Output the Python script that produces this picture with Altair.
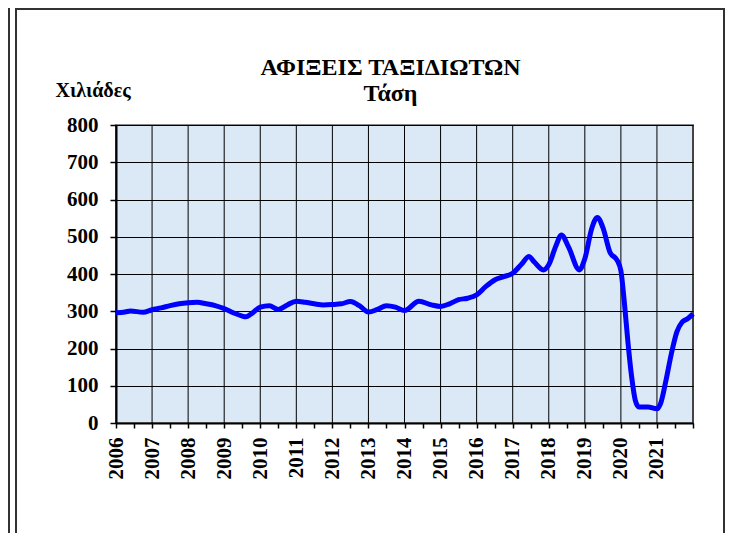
import altair as alt
import pandas as pd

# Trend of traveller arrivals (thousands)
years = [2006.0, 2006.25, 2006.4, 2006.75, 2007.0, 2007.25, 2007.5, 2007.75,
         2008.0, 2008.25, 2008.5, 2008.75, 2009.0, 2009.25, 2009.5, 2009.6,
         2009.75, 2010.0, 2010.25, 2010.5, 2010.75, 2011.0, 2011.25, 2011.5,
         2011.75, 2012.0, 2012.25, 2012.5, 2012.75, 2013.0, 2013.25, 2013.5,
         2013.75, 2014.0, 2014.4, 2014.75, 2015.0, 2015.25, 2015.5, 2015.75,
         2016.0, 2016.25, 2016.5, 2016.75, 2017.0, 2017.25, 2017.45, 2017.6,
         2017.85, 2018.0, 2018.2, 2018.35, 2018.55, 2018.85, 2019.0, 2019.2,
         2019.35, 2019.5, 2019.7, 2019.9, 2020.0, 2020.1, 2020.2, 2020.3,
         2020.4, 2020.5, 2020.75, 2021.0, 2021.1, 2021.25, 2021.4, 2021.55,
         2021.7, 2021.85, 2022.0]
values = [296, 298, 301, 297, 304, 309, 315, 320,
          323, 324, 320, 315, 307, 296, 287, 285,
          293, 311, 315, 305, 317, 327, 324, 320,
          317, 318, 320, 326, 315, 298, 305, 315,
          311, 302, 327, 317, 313, 320, 331, 335,
          344, 366, 384, 393, 402, 427, 447, 432,
          411, 425, 476, 505, 472, 411, 441, 525,
          552, 525, 458, 436, 409, 320, 213, 123,
          61, 43, 43, 38, 52, 114, 186, 244,
          271, 280, 293]

year_ticks = list(range(2006, 2023))
half_ticks = [y / 2 for y in range(4012, 4045)]
y_ticks = list(range(0, 801, 100))

df = pd.DataFrame({"year": years, "value": values})
grid_df = pd.DataFrame({"year": year_ticks})

font = "Liberation Serif"

x_scale = alt.Scale(domain=[2006, 2022], nice=False, zero=False)
y_scale = alt.Scale(domain=[0, 800], nice=False)

x_axis = alt.Axis(
    values=half_ticks,
    labelExpr="(datum.value % 1 == 0 && datum.value < 2022) ? datum.value : ''",
    labelAngle=270, labelAlign="right", labelBaseline="middle",
    labelFont=font, labelFontSize=21, labelFontWeight="bold", labelColor="black",
    labelPadding=9, tickSize=5, tickColor="black", tickWidth=1.5,
    domainColor="black", domainWidth=2, grid=False, title=None,
    labelOverlap=False, labelFlush=False,
)
y_axis = alt.Axis(
    values=y_ticks, grid=True, gridColor="black", gridWidth=1,
    labelFont=font, labelFontSize=21, labelFontWeight="bold", labelColor="black",
    labelPadding=12, tickSize=6, tickColor="black", tickWidth=1.5,
    domainColor="black", domainWidth=2,
    title="Χιλιάδες", titleAngle=0, titleFont=font, titleFontSize=20,
    titleFontWeight="bold", titleColor="black", titleAlign="left",
    titleBaseline="alphabetic", titleX=-61, titleY=-29,
)

grid = alt.Chart(grid_df).mark_rule(color="black", strokeWidth=1).encode(
    x=alt.X("year:Q", scale=x_scale, axis=x_axis),
)

line = alt.Chart(df).mark_line(
    color="#0000ff", strokeWidth=5, interpolate="monotone"
).encode(
    x=alt.X("year:Q", scale=x_scale, axis=x_axis),
    y=alt.Y("value:Q", scale=y_scale, axis=y_axis),
)

frame = alt.Chart(grid_df).mark_rect(
    fill=None, stroke="#333333", strokeWidth=1.5
).encode(
    x=alt.value(-100), x2=alt.value(608), y=alt.value(-116), y2=alt.value(440)
)
edge = alt.Chart(grid_df).mark_rule(color="#333333", strokeWidth=1.5).encode(
    x=alt.value(-107), y=alt.value(-118), y2=alt.value(440)
)

chart = alt.layer(frame, edge, grid, line).properties(
    width=577, height=298,
    autosize=alt.AutoSizeParams(type="none"),
    padding={"left": 108, "top": 117, "right": 35, "bottom": 110},
    title=alt.TitleParams(
        text=["ΑΦΙΞΕΙΣ ΤΑΞΙΔΙΩΤΩΝ", "Τάση"],
        font=font, fontSize=24, fontWeight="bold", color="black",
        lineHeight=26, anchor="middle", dx=-14, offset=-100,
    ),
).configure(
    background="white",
    view=alt.ViewConfig(fill="#dbe8f6", stroke="#888888", strokeWidth=2),
)

chart.save("out.html", embed_options={"renderer": "svg", "actions": False})
